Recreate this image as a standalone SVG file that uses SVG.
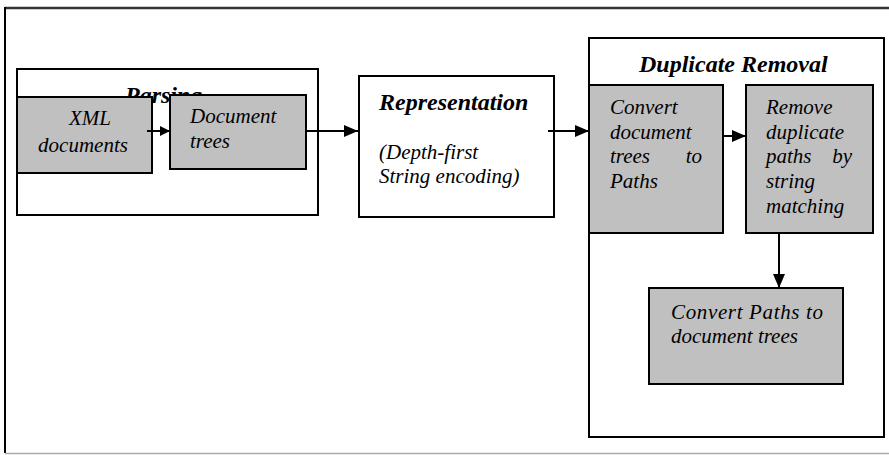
<svg xmlns="http://www.w3.org/2000/svg" width="889" height="455" viewBox="0 0 889 455" font-family="Liberation Serif, serif">
<style>
.frame{fill:#fff;stroke:#000;stroke-width:2}
.box{fill:#c0c0c0;stroke:#000;stroke-width:2}
.wbox{fill:#fff;stroke:#000;stroke-width:2}
.h{font-size:24px;font-weight:bold;font-style:italic;fill:#000}
.t{font-size:21px;font-style:italic;fill:#000}
.c{stroke:#000;stroke-width:2;fill:none}
</style>
<defs>
<marker id="ah" viewBox="0 0 10 10" refX="10" refY="5" markerWidth="10" markerHeight="10" markerUnits="userSpaceOnUse" orient="auto">
<path d="M0,0 L10,5 L0,10 z" fill="#000"/>
</marker>
<marker id="ahl" viewBox="0 0 14 12" refX="14" refY="6" markerWidth="14" markerHeight="12" markerUnits="userSpaceOnUse" orient="auto">
<path d="M0,0 L14,6 L0,12 z" fill="#000"/>
</marker>
</defs>
<rect width="889" height="455" fill="#fff"/>
<g id="frame">
<line x1="5" y1="8" x2="889" y2="8" stroke="#333" stroke-width="2.5"/>
<line x1="5" y1="7" x2="5" y2="453" stroke="#000" stroke-width="2"/>
<line x1="5" y1="453.5" x2="889" y2="453.5" stroke="#aaa" stroke-width="1.5"/>
</g>
<g id="parsing">
<rect class="frame" x="17" y="69" width="301" height="146"/>
<text class="h" x="125" y="103">Parsing</text>
</g>
<g id="xml-documents">
<rect class="box" x="17" y="97" width="135" height="76"/>
<text class="t" x="90" y="125" text-anchor="middle">XML</text>
<text class="t" x="83" y="152" text-anchor="middle">documents</text>
</g>
<g id="document-trees">
<rect class="box" x="170" y="95" width="136" height="74"/>
<text class="t" x="190" y="123">Document</text>
<text class="t" x="190" y="148">trees</text>
</g>
<g id="representation">
<rect class="wbox" x="359" y="76" width="195" height="141"/>
<text class="h" x="379" y="110">Representation</text>
<text class="t" x="379" y="159">(Depth-first</text>
<text class="t" x="379" y="183">String encoding)</text>
</g>
<g id="duplicate-removal">
<rect class="wbox" x="589" y="38" width="295" height="399"/>
<text class="h" x="639" y="72">Duplicate Removal</text>
</g>
<g id="convert-to-paths">
<rect class="box" x="589" y="85" width="134" height="148"/>
<text class="t" x="610" y="114">Convert</text>
<text class="t" x="610" y="139">document</text>
<text class="t" x="610" y="163">trees</text>
<text class="t" x="702" y="163" text-anchor="end">to</text>
<text class="t" x="610" y="188">Paths</text>
</g>
<g id="remove-duplicates">
<rect class="box" x="746" y="85" width="127" height="148"/>
<text class="t" x="766" y="114">Remove</text>
<text class="t" x="766" y="139">duplicate</text>
<text class="t" x="766" y="163">paths</text>
<text class="t" x="852" y="163" text-anchor="end">by</text>
<text class="t" x="766" y="188">string</text>
<text class="t" x="766" y="213">matching</text>
</g>
<g id="convert-to-trees">
<rect class="box" x="649" y="288" width="194" height="96"/>
<text class="t" x="671" y="319" textLength="152" lengthAdjust="spacing">Convert Paths to</text>
<text class="t" x="671" y="343">document trees</text>
</g>
<g id="connectors">
<line class="c" x1="147" y1="131" x2="170" y2="131" marker-end="url(#ah)"/>
<line class="c" x1="306" y1="131" x2="358" y2="131" marker-end="url(#ahl)"/>
<line class="c" x1="548" y1="131" x2="589" y2="131" marker-end="url(#ahl)"/>
<line class="c" x1="722" y1="136" x2="746" y2="136" marker-end="url(#ahl)"/>
<line class="c" x1="779" y1="233" x2="779" y2="288" marker-end="url(#ahl)"/>
</g>
</svg>
